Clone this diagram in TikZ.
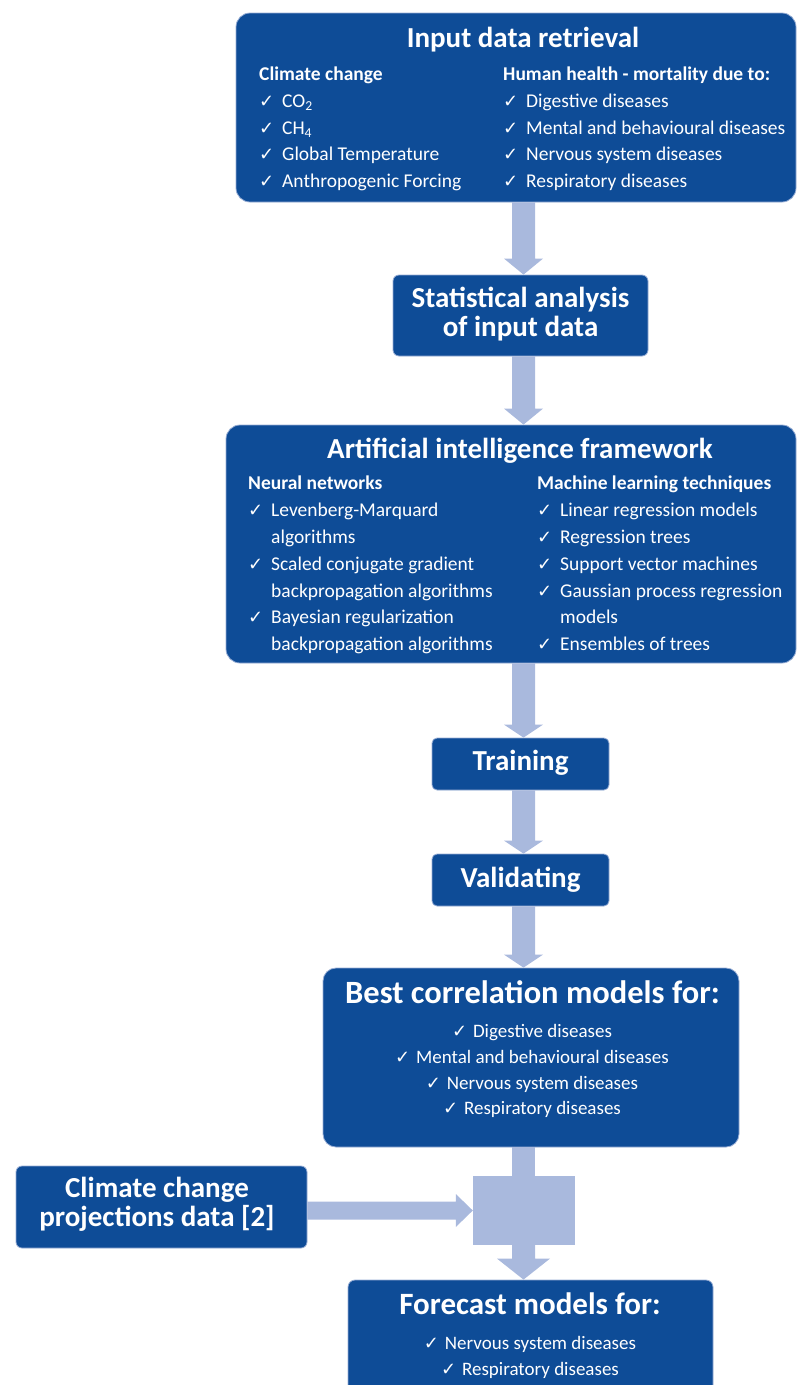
\documentclass[tikz,border=0pt]{standalone}
\usepackage{fontspec}
\setmainfont{Carlito}
\newfontfamily\symf{DejaVu Sans}
\usetikzlibrary{calc}
\definecolor{boxblue}{RGB}{14,76,151}
\definecolor{arrowblue}{RGB}{169,185,221}
\definecolor{edgeblue}{RGB}{150,172,212}
\newcommand{\ck}{{\symf\fontsize{18}{18}\selectfont ✓}}
\newcommand{\cki}[1]{\makebox[23pt][l]{\ck}#1}
\newcommand{\ckc}[1]{\makebox[21pt][l]{\ck}#1}
\newcommand{\ind}[1]{\makebox[23pt][l]{}#1}
% vertical block arrow: #1 start, #2 tip, #3 shaft half width, #4 head half width, #5 head length
\newcommand{\vblk}[5]{\fill[arrowblue] ($(#1)+(-#3,0)$) -- ($(#2)+(-#3,-#5)$) -- ($(#2)+(-#4,-#5)$) -- (#2) -- ($(#2)+(#4,-#5)$) -- ($(#2)+(#3,-#5)$) -- ($(#1)+(#3,0)$) -- cycle;}
% horizontal block arrow (left to right)
\newcommand{\hblk}[5]{\fill[arrowblue] ($(#1)+(0,-#3)$) -- ($(#2)+(-#5,-#3)$) -- ($(#2)+(-#5,-#4)$) -- (#2) -- ($(#2)+(-#5,#4)$) -- ($(#2)+(-#5,#3)$) -- ($(#1)+(0,#3)$) -- cycle;}
\begin{document}
\begin{tikzpicture}[x=1pt,y=-1pt,
  box/.style={fill=boxblue, draw=edgeblue, line width=0.8pt, rounded corners=#1, inner sep=0pt},
  box/.default=12pt,
  ttl/.style={text=white, inner sep=0pt, anchor=mid, font=\fontsize{29}{30}\selectfont\bfseries},
  hdr/.style={text=white, inner sep=0pt, anchor=mid west, font=\fontsize{19.5}{22}\selectfont\bfseries},
  itm/.style={text=white, inner sep=0pt, anchor=mid west, font=\fontsize{19.5}{22}\selectfont},
  citm/.style={text=white, inner sep=0pt, anchor=mid, font=\fontsize{19}{22}\selectfont}]
\path[use as bounding box] (0,0) rectangle (797,1385);
\clip (0,0) rectangle (797,1385);

% boxes
\node[box=14pt, minimum width=560pt, minimum height=189pt] (inp) at (516,107.5) {};
\node[box=6pt, minimum width=255pt, minimum height=81pt] (stat) at (520.5,315.5) {};
\node[box=14pt, minimum width=570pt, minimum height=238pt] (ai) at (511,544) {};
\node[box=5pt, minimum width=177pt, minimum height=52pt] (train) at (520.5,764) {};
\node[box=5pt, minimum width=177pt, minimum height=52pt] (valid) at (520.5,880) {};
\node[box=13pt, minimum width=416pt, minimum height=179pt] (best) at (531,1057.5) {};
\node[box=6pt, minimum width=291pt, minimum height=82pt] (proj) at (161.5,1207) {};
\node[fill=arrowblue, inner sep=0pt, minimum width=102pt, minimum height=69pt] (mrg) at (524,1210.5) {};
\node[box=7pt, minimum width=365pt, minimum height=150pt] (fc) at (530.5,1355) {};

% arrows
\coordinate (ax) at (523.5,0);
\coordinate (a1s) at (inp.south -| ax);   \coordinate (a1e) at (stat.north -| ax);
\coordinate (a2s) at (stat.south -| ax);  \coordinate (a2e) at (ai.north -| ax);
\coordinate (a3s) at (ai.south -| ax);    \coordinate (a3e) at (train.north -| ax);
\coordinate (a4s) at (train.south -| ax); \coordinate (a4e) at (valid.north -| ax);
\coordinate (a5s) at (valid.south -| ax); \coordinate (a5e) at (best.north -| ax);
\coordinate (a6s) at (best.south -| ax);  \coordinate (a6e) at (mrg.north -| ax);
\coordinate (a7s) at (mrg.south -| ax);   \coordinate (a7e) at (fc.north -| ax);
\coordinate (h1s) at (proj.east |- mrg.west); \coordinate (h1e) at (mrg.west);
\vblk{a1s}{a1e}{11.5}{19.5}{16}
\vblk{a2s}{a2e}{11.5}{19.5}{16}
\vblk{a3s}{a3e}{11.5}{19.5}{13}
\vblk{a4s}{a4e}{11.5}{19.5}{13}
\vblk{a5s}{a5e}{11.5}{19.5}{13}
\fill[arrowblue] ($(a6s)+(-11.5,0)$) rectangle ($(a6e)+(11.5,0.5)$);
\vblk{a7s}{a7e}{11.5}{26.5}{21}
\hblk{h1s}{h1e}{9}{16.5}{17}

% Input data retrieval
\node[ttl] (t1) at (523,45) {Input data retrieval};
\node[hdr] (h1a) at (259,78) {Climate change};
\node[itm] (i1a) at (259,105) {\cki{CO\textsubscript{2}}};
\node[itm] (i1b) at (259,132) {\cki{CH\textsubscript{4}}};
\node[itm] (i1c) at (259,158) {\cki{Global Temperature}};
\node[itm] (i1d) at (259,185) {\cki{Anthropogenic Forcing}};
\node[hdr] (h1b) at (503,78) {Human health - mortality due to:};
\node[itm] (i1e) at (503,105) {\cki{Digestive diseases}};
\node[itm] (i1f) at (503,132) {\cki{Mental and behavioural diseases}};
\node[itm] (i1g) at (503,158) {\cki{Nervous system diseases}};
\node[itm] (i1h) at (503,185) {\cki{Respiratory diseases}};

% Statistical analysis
\node[ttl] (t2a) at (520.5,305) {Statistical analysis};
\node[ttl] (t2b) at (520.5,334) {of input data};

% AI framework
\node[ttl] (t3) at (520,456) {Artificial intelligence framework};
\node[hdr] (h3a) at (248,487) {Neural networks};
\node[itm] (i3a) at (248,514) {\cki{Levenberg-Marquard}};
\node[itm] (i3b) at (248,541) {\ind{algorithms}};
\node[itm] (i3c) at (248,568) {\cki{Scaled conjugate gradient}};
\node[itm] (i3d) at (248,595) {\ind{backpropagation algorithms}};
\node[itm] (i3e) at (248,621) {\cki{Bayesian regularization}};
\node[itm] (i3f) at (248,648) {\ind{backpropagation algorithms}};
\node[hdr] (h3b) at (537,487) {Machine learning techniques};
\node[itm] (i3g) at (537,514) {\cki{Linear regression models}};
\node[itm] (i3h) at (537,541) {\cki{Regression trees}};
\node[itm] (i3i) at (537,568) {\cki{Support vector machines}};
\node[itm] (i3j) at (537,595) {\cki{Gaussian process regression}};
\node[itm] (i3k) at (537,621) {\ind{models}};
\node[itm] (i3l) at (537,648) {\cki{Ensembles of trees}};

% Training / Validating
\node[ttl] (t4) at (520.5,768) {Training};
\node[ttl] (t5) at (520.5,885) {Validating};

% Best correlation
\node[ttl, font=\fontsize{32.5}{34}\selectfont\bfseries] (t6) at (532.5,1001) {Best correlation models for:};
\node[citm] (i6a) at (532,1035) {\ckc{Digestive diseases}};
\node[citm] (i6b) at (532,1061) {\ckc{Mental and behavioural diseases}};
\node[citm] (i6c) at (532,1087) {\ckc{Nervous system diseases}};
\node[citm] (i6d) at (532,1112) {\ckc{Respiratory diseases}};

% Climate change projections
\node[ttl] (t7a) at (157,1195) {Climate change};
\node[ttl] (t7b) at (157,1224) {projections data [2]};

% Forecast
\node[ttl, font=\fontsize{31}{32}\selectfont\bfseries] (t8) at (530,1312) {Forecast models for:};
\node[citm] (i8a) at (530,1347) {\ckc{Nervous system diseases}};
\node[citm] (i8b) at (530,1373) {\ckc{Respiratory diseases}};
\end{tikzpicture}
\end{document}
